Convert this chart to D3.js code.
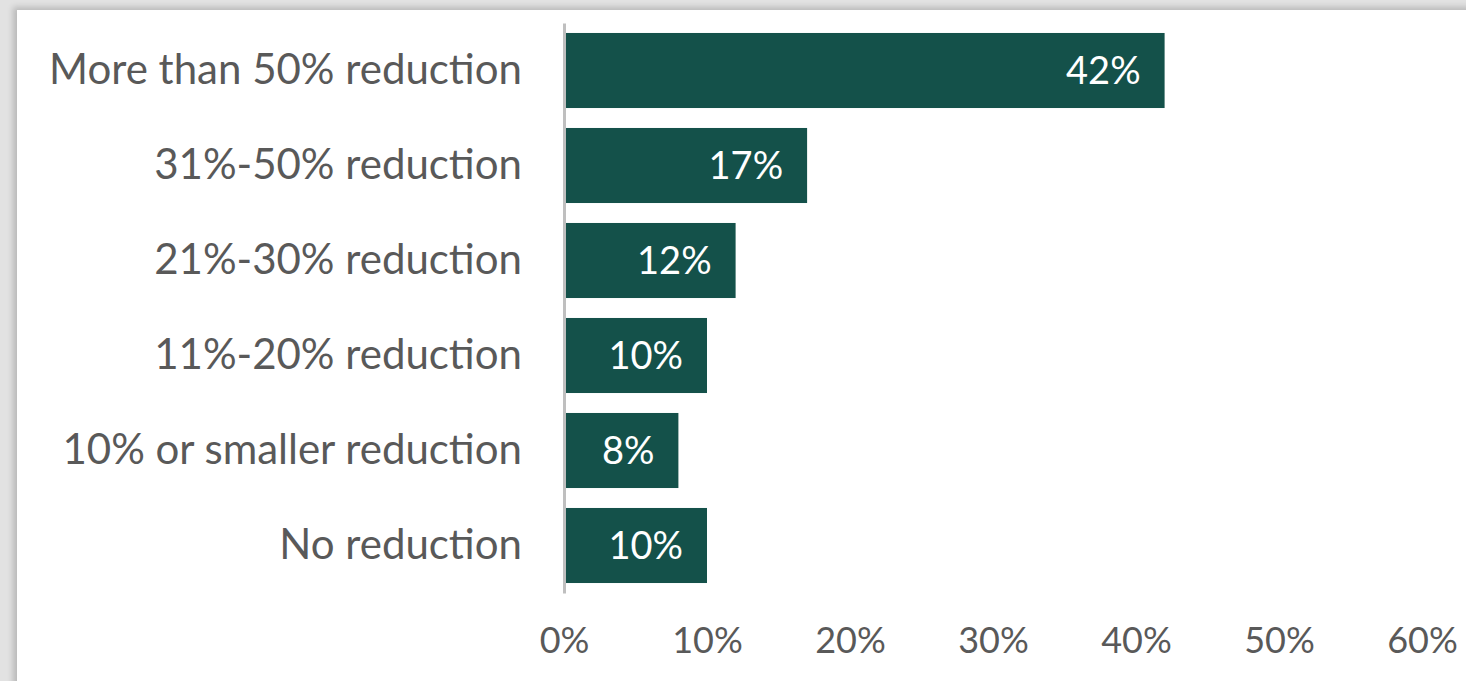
<!DOCTYPE html>
<html>
<head>
<meta charset="utf-8">
<script src="https://cdn.jsdelivr.net/npm/d3@7"></script>
<style>
  html, body { margin: 0; padding: 0; background: #e2e2e2; overflow: hidden; }
  #card { position: absolute; left: 17px; top: 10px; width: 1470px; height: 690px; background: #fff;
          box-shadow: -4px -3px 6px rgba(0,0,0,0.18); }
  svg { position: absolute; left: 0; top: 0; }
  text { font-family: Lato, "Open Sans", sans-serif; }
</style>
</head>
<body>
<div id="card"></div>
<svg id="chart" width="1466" height="681"></svg>
<script>
const categories = [
  "More than 50% reduction",
  "31%-50% reduction",
  "21%-30% reduction",
  "11%-20% reduction",
  "10% or smaller reduction",
  "No reduction"
];
const values = [42, 17, 12, 10, 8, 10];
const tickValues = [0, 10, 20, 30, 40, 50, 60];

const svg = d3.select("#chart");
const x = d3.scaleLinear().domain([0, 60]).range([564, 1422]);
const y = d3.scaleBand().domain(categories).range([23, 593]).paddingInner(0.21).paddingOuter(0.105);

const textColor = "#595959";
const barColor = "#14514a";

// bars
svg.selectAll("rect.bar").data(values).enter().append("rect")
  .attr("class", "bar")
  .attr("x", x(0))
  .attr("y", (d, i) => y(categories[i]))
  .attr("width", d => x(d) - x(0))
  .attr("height", y.bandwidth())
  .attr("fill", barColor);

// value labels
svg.selectAll("text.val").data(values).enter().append("text")
  .attr("class", "val")
  .attr("x", d => x(d) - 24)
  .attr("y", (d, i) => y(categories[i]) + y.bandwidth() / 2)
  .attr("dy", "0.36em")
  .attr("text-anchor", "end")
  .attr("fill", "#ffffff")
  .attr("font-size", 38)
  .text(d => d + "%");

// y axis
const yAxis = d3.axisLeft(y).tickSize(0).tickPadding(42);
const gy = svg.append("g").attr("transform", `translate(${x(0)},0)`).call(yAxis);
gy.select(".domain").attr("stroke", "#bfbfbf").attr("stroke-width", 3);
gy.selectAll("text").attr("fill", textColor).attr("font-size", 42).attr("font-family", "Lato, sans-serif");

// x axis (labels only)
const xAxis = d3.axisBottom(x).tickValues(tickValues).tickFormat(d => d + "%").tickSize(0).tickPadding(0);
const gx = svg.append("g").attr("transform", `translate(0,627)`).call(xAxis);
gx.select(".domain").remove();
gx.selectAll("text").attr("fill", textColor).attr("font-size", 36).attr("font-family", "Lato, sans-serif");
</script>
</body>
</html>
